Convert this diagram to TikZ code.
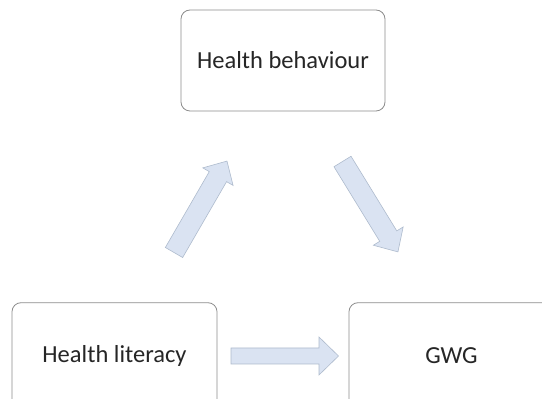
\documentclass[tikz,border=0pt]{standalone}
\usepackage{fontspec}
\setmainfont{Carlito}
\usetikzlibrary{calc}
\definecolor{boxline}{HTML}{8C8C8C}
\definecolor{arrowfill}{HTML}{DAE3F2}
\definecolor{arrowline}{HTML}{AEBBCD}
\tikzset{
  stage/.style={draw=boxline, line width=0.8pt, rounded corners=9pt, fill=white,
    inner sep=0pt, font=\fontsize{24.5}{28}\selectfont, text=black!85},
  blockarrow/.style={fill=arrowfill, draw=arrowline, line width=0.6pt, line join=miter}
}
% block arrow from #1 to #2; #3 half shaft width, #4 half head width, #5 head length
\newcommand{\blockarrowdraw}[5]{%
  \path let \p1=($(#2)-(#1)$), \n1={atan2(\y1,\x1)}, \n2={veclen(\x1,\y1)} in
    [blockarrow, shift={(#1)}, rotate=\n1]
    (0,-#3) -- ({\n2-#5},-#3) -- ({\n2-#5},-#4) -- (\n2,0) -- ({\n2-#5},#4)
    -- ({\n2-#5},#3) -- (0,#3) -- cycle;}
\begin{document}
\begin{tikzpicture}[x=1pt,y=1pt]
  \useasboundingbox (0,0) rectangle (542,399);
  \clip (0,0) rectangle (542,399);
  % stages
  \node[stage, minimum width=204pt, minimum height=101pt] (behaviour) at (283,338.5) {Health behaviour};
  \node[stage, minimum width=205pt, minimum height=106pt] (literacy) at (114.5,43.3) {Health literacy};
  \node[stage, minimum width=205pt, minimum height=106pt] (gwg) at (451.5,43.3) {GWG};
  % arrow end points
  \coordinate (a1) at (174,146.5);
  \coordinate (b1) at (227,238);
  \coordinate (a2) at (342.5,237.5);
  \coordinate (b2) at (398,147);
  \coordinate (a3) at (231,43);
  \coordinate (b3) at (338.5,43);
  \blockarrowdraw{a1}{b1}{10}{17.5}{18}
  \blockarrowdraw{a2}{b2}{10}{17.5}{18.5}
  \blockarrowdraw{a3}{b3}{8}{19}{19.5}
\end{tikzpicture}
\end{document}
